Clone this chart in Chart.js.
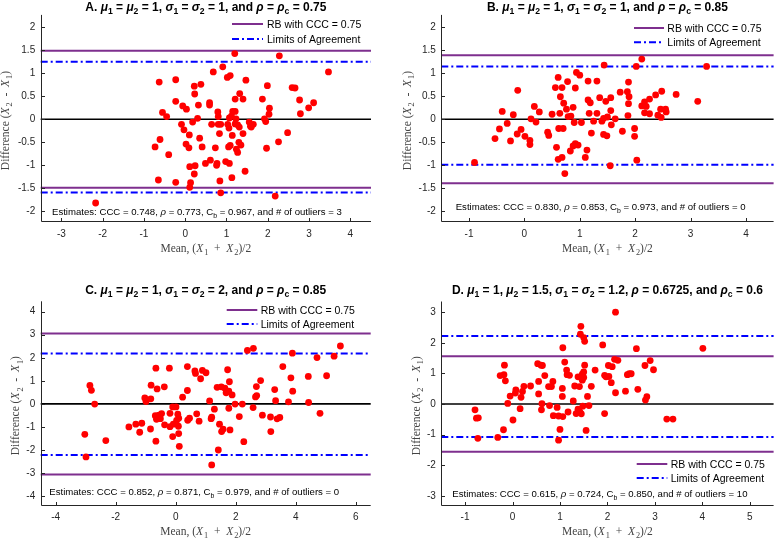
<!DOCTYPE html>
<html><head><meta charset="utf-8">
<script src="https://cdn.jsdelivr.net/npm/chart.js@4/dist/chart.umd.min.js"></script>
<style>
html,body{margin:0;padding:0;background:#fff;}
#wrap{position:relative;width:777px;height:539px;overflow:hidden;}
canvas{position:absolute;}
</style></head><body><div id="wrap">
<canvas id="cA" width="388" height="268" style="left:0;top:0"></canvas>
<canvas id="cB" width="389" height="268" style="left:388px;top:0"></canvas>
<canvas id="cC" width="388" height="271" style="left:0;top:268px"></canvas>
<canvas id="cD" width="389" height="271" style="left:388px;top:268px"></canvas>
</div>
<script>
// ---------- data: [mean, difference] pairs per panel ----------
const ptsA = [[-2.17,-1.82],[-0.63,0.81],[-0.61,-0.44],[-0.73,-0.60],[-0.65,-1.32],[-0.55,0.15],[-0.45,0.06],[-0.40,-0.77],[-0.23,0.86],[-0.23,0.39],
[-0.23,-1.37],[-0.06,0.29],[-0.09,-0.11],[-0.03,-0.23],[0.03,0.22],[0.02,-0.54],[0.09,-0.62],[0.10,-0.34],[0.11,-1.03],[0.13,-1.38],
[0.11,-1.48],[0.22,0.72],[0.23,0.55],[0.24,-1.01],[0.22,-1.19],[0.18,-0.06],[0.30,0.02],[0.32,0.31],[0.38,0.76],[0.35,-0.41],
[0.41,-0.60],[0.49,-0.96],[0.59,0.36],[0.59,0.31],[0.61,-0.89],[0.68,1.03],[0.64,-0.11],[0.73,-0.62],[0.77,-0.96],[0.76,-1.00],
[0.79,0.16],[0.80,0.06],[0.80,-0.11],[0.86,-0.11],[0.83,-0.31],[0.84,-1.34],[0.86,-1.60],[0.91,1.14],[0.98,-0.92],[1.02,0.91],
[1.09,0.95],[1.03,-0.11],[1.06,-0.19],[1.05,-0.60],[1.09,-0.57],[1.07,-0.96],[1.07,0.03],[1.12,0.07],[1.13,-1.27],[1.14,-0.35],
[1.15,0.17],[1.20,1.43],[1.21,0.44],[1.21,0.17],[1.23,0.01],[1.21,-0.10],[1.24,-0.65],[1.27,-0.72],[1.27,-0.12],[1.31,-0.17],
[1.32,0.56],[1.30,-0.50],[1.35,-0.56],[1.40,-0.31],[1.40,0.44],[1.47,0.85],[1.45,-1.13],[1.55,-0.06],[1.58,-0.15],[1.60,-0.17],
[1.65,-0.11],[1.87,0.44],[1.92,0.01],[1.95,-0.05],[1.99,0.73],[1.97,-0.63],[2.04,0.24],[2.03,0.11],[2.28,1.38],[2.26,-0.49],
[2.18,-1.67],[2.48,-0.29],[2.59,0.69],[2.66,0.68],[2.77,0.42],[2.79,0.12],[2.99,0.25],[3.11,0.36],[3.47,1.03]];

const ptsB = [[-0.90,-0.94],[-0.53,-0.42],[-0.45,-0.21],[-0.40,0.17],[-0.31,-0.09],[-0.25,-0.47],[-0.20,0.10],[-0.12,0.63],[-0.13,-0.32],[-0.06,-0.22],
[0.01,-0.37],[0.10,-0.46],[0.10,-0.55],[0.12,0.01],[0.18,0.28],[0.21,-0.06],[0.27,0.16],[0.42,-0.28],[0.44,-0.35],[0.50,0.11],
[0.56,0.69],[0.58,-0.61],[0.61,0.91],[0.61,-0.87],[0.64,0.13],[0.65,0.49],[0.62,-0.20],[0.68,0.69],[0.70,-0.20],[0.68,-0.83],
[0.71,0.35],[0.73,-1.18],[0.76,0.22],[0.78,0.82],[0.79,0.06],[0.83,-0.69],[0.84,0.07],[0.88,0.26],[0.90,-0.07],[0.88,-0.58],
[0.92,-0.53],[0.94,1.02],[0.92,0.68],[0.97,-0.56],[1.00,0.96],[1.03,-0.07],[1.10,-0.83],[1.13,-0.67],[1.15,0.83],[1.15,0.42],
[1.17,0.13],[1.19,0.36],[1.21,-0.30],[1.25,-0.04],[1.31,0.83],[1.31,0.13],[1.36,0.47],[1.40,-0.04],[1.43,0.02],[1.44,1.18],
[1.43,-0.33],[1.47,0.39],[1.49,-0.36],[1.50,0.05],[1.56,0.19],[1.56,0.47],[1.57,-0.12],[1.55,-1.01],[1.64,0.01],[1.73,0.59],
[1.77,-0.26],[1.86,0.60],[1.88,0.81],[1.89,0.49],[1.88,0.34],[1.87,0.08],[1.99,-0.20],[1.99,-0.37],[2.02,1.15],[2.03,-0.89],
[2.12,1.31],[2.12,0.29],[2.17,0.38],[2.17,0.14],[2.20,0.28],[2.26,0.44],[2.26,0.12],[2.37,0.53],[2.41,0.09],[2.46,0.22],
[2.48,0.61],[2.47,0.04],[2.55,0.22],[2.56,0.16],[2.74,0.54],[3.13,0.39],[3.29,1.15]];

const ptsC = [[-3.03,-1.32],[-2.99,-2.30],[-2.86,0.80],[-2.81,0.59],[-2.70,-0.01],[-2.33,-1.59],[-1.56,-1.00],[-1.33,-0.88],[-1.20,-1.23],[-1.13,-0.84],
[-1.03,0.26],[-0.99,0.10],[-0.83,0.22],[-0.82,0.81],[-0.84,-1.09],[-0.66,1.55],[-0.62,0.65],[-0.68,-0.51],[-0.64,-0.67],[-0.66,-1.62],
[-0.56,-0.49],[-0.51,-0.64],[-0.47,-0.42],[-0.38,0.74],[-0.37,-0.91],[-0.21,1.55],[-0.19,-0.41],[-0.19,-0.99],[-0.10,-0.13],[-0.10,-1.42],
[-0.08,-0.88],[0.01,-0.13],[0.03,-0.72],[0.07,-0.45],[0.09,-0.97],[0.10,-1.29],[0.12,-1.84],[0.10,-0.62],[0.23,0.29],[0.39,1.62],
[0.39,0.58],[0.40,-0.71],[0.46,-0.62],[0.64,1.43],[0.66,1.32],[0.70,-0.43],[0.78,-0.75],[0.83,1.09],[0.89,1.45],[1.01,1.35],
[1.13,0.13],[1.18,-0.64],[1.20,-0.58],[1.20,-2.65],[1.29,-0.23],[1.38,0.72],[1.42,-2.00],[1.46,-0.88],[1.52,0.74],[1.53,-1.20],
[1.58,-1.10],[1.64,0.68],[1.68,0.48],[1.73,1.48],[1.77,0.55],[1.77,-0.19],[1.79,0.96],[1.81,-1.13],[1.88,0.39],[1.98,-0.01],
[2.12,-0.55],[2.22,-0.01],[2.27,-1.64],[2.39,2.32],[2.59,2.41],[2.58,-0.16],[2.66,0.30],[2.69,0.75],[2.70,0.36],[2.83,1.01],
[2.89,-0.49],[3.16,-0.57],[3.17,-1.20],[3.30,0.62],[3.33,0.14],[3.38,-0.65],[3.47,-0.59],[3.57,1.62],[3.76,0.09],[3.84,1.13],
[3.89,2.20],[3.90,0.55],[4.42,1.19],[4.43,0.06],[4.71,2.01],[4.81,-0.41],[5.03,1.22],[5.28,2.07],[5.49,2.51]];

const ptsD = [[-0.79,-0.19],[-0.76,-0.46],[-0.72,-0.45],[-0.73,-1.12],[-0.31,-1.09],[-0.26,0.93],[-0.18,0.96],[-0.17,1.27],[-0.15,0.76],[-0.19,-0.84],
[-0.10,0.02],[-0.05,0.26],[0.01,-0.52],[0.06,0.36],[0.07,0.46],[0.16,-0.15],[0.18,0.22],[0.21,0.41],[0.24,0.58],[0.38,0.59],
[0.53,1.32],[0.55,0.74],[0.55,0.33],[0.60,1.27],[0.62,0.01],[0.61,-0.19],[0.63,1.26],[0.68,0.93],[0.76,0.57],[0.78,-0.05],
[0.82,0.57],[0.85,0.74],[0.86,-0.38],[0.94,-0.11],[0.97,-0.39],[0.97,-1.18],[1.00,-0.83],[1.06,1.84],[1.05,0.51],[1.05,0.25],
[1.06,-0.41],[1.10,1.37],[1.14,1.11],[1.15,0.96],[1.17,-0.26],[1.20,0.94],[1.28,0.10],[1.31,0.59],[1.34,-0.31],[1.38,0.89],
[1.38,-0.17],[1.41,0.57],[1.42,-0.26],[1.44,2.54],[1.43,2.28],[1.45,-0.32],[1.47,0.98],[1.47,0.78],[1.48,-0.07],[1.50,2.17],
[1.50,1.05],[1.50,0.87],[1.52,2.05],[1.52,1.27],[1.55,-0.86],[1.58,0.25],[1.61,-0.05],[1.66,0.58],[1.74,1.11],[1.90,1.93],
[1.94,0.94],[1.97,0.89],[1.94,-0.31],[2.02,1.26],[2.03,0.90],[2.08,0.70],[2.10,1.22],[2.15,1.46],[2.17,3.00],[2.17,0.37],
[2.22,1.43],[2.38,0.42],[2.42,0.96],[2.46,0.99],[2.50,0.99],[2.61,1.81],[2.64,0.48],[2.79,1.26],[2.80,0.13],[2.83,0.24],
[2.90,1.42],[2.97,1.12],[3.25,-0.49],[3.38,-0.49],[4.01,1.82]];

// reference lines: RB (CCC = 0.75) upper/lower, limits of agreement upper/lower
const rbA = [1.49, -1.49],  loaA = [1.25, -1.59];
const rbB = [1.39, -1.39],  loaB = [1.15, -0.99];
const rbC = [3.05, -3.06],  loaC = [2.19, -2.22];
const rbD = [1.565, -1.56], loaD = [2.22, -1.08];

// axis limits and ticks
const xlimA = [-3.5, 4.5], ylimA = [-2.24, 2.27];
const xlimB = [-1.5, 4.5], ylimB = [-2.24, 2.27];
const xlimC = [-4.5, 6.5], ylimC = [-4.43, 4.45];
const xlimD = [-1.5, 5.5], ylimD = [-3.33, 3.35];
const xticksA = [-3,-2,-1,0,1,2,3,4], yticksA = [-2,-1.5,-1,-0.5,0,0.5,1,1.5,2];
const xticksB = [-1,0,1,2,3,4],        yticksB = [-2,-1.5,-1,-0.5,0,0.5,1,1.5,2];
const xticksC = [-4,-2,0,2,4,6],       yticksC = [-4,-3,-2,-1,0,1,2,3,4];
const xticksD = [-1,0,1,2,3,4,5],      yticksD = [-3,-2,-1,0,1,2,3];

// text
const legendLabels = ['RB with CCC = 0.75', 'Limits of Agreement'];
const estimates = {
  A: ['0.748','0.773','0.967','3'],
  B: ['0.830','0.853','0.973','0'],
  C: ['0.852','0.871','0.979','0'],
  D: ['0.615','0.724','0.850','10']
};

// ---------- rendering helpers ----------
const SANS = '"Liberation Sans", Arial, Helvetica, sans-serif';
const SERIF = '"Liberation Serif", "Times New Roman", serif';
const AXC = '#262626';
const PURPLE = '#7E2F8E', BLUE = '#0000FF';

function segFont(base, st, sub) {
  const size = sub ? base.size * 0.72 : base.size;
  return (st && st.includes('i') ? 'italic ' : '') + (st && st.includes('b') ? 'bold ' : '') + size.toFixed(2) + 'px ' + base.family;
}
function drawRich(ctx, segs, base, x, y, align, rot) {
  ctx.save();
  let w = 0;
  segs.forEach(s => { ctx.font = segFont(base, s[1], s[2]); w += ctx.measureText(s[0]).width + (s[3] || 0); });
  ctx.translate(x, y);
  if (rot) ctx.rotate(rot);
  let cx = align === 'center' ? -w / 2 : (align === 'right' ? -w : 0);
  ctx.fillStyle = base.color; ctx.textBaseline = 'alphabetic'; ctx.textAlign = 'left';
  segs.forEach(s => {
    ctx.font = segFont(base, s[1], s[2]);
    ctx.fillText(s[0], cx, s[2] ? base.size * 0.3 : 0);
    cx += ctx.measureText(s[0]).width + (s[3] || 0);
  });
  ctx.restore();
}

const SP = '\u2002';
const xLabelSegs = [['Mean, '], ['('], ['X', 'i', 0, 1], ['1', '', 1], [SP + '+' + SP], ['X', 'i', 0, 1], ['2', '', 1], [')/2']];
const yLabelSegs = [['Difference '], ['('], ['X', 'i', 0, 1], ['2', '', 1], [SP + '-' + SP], ['X', 'i', 0, 1], ['1', '', 1], [')']];

const decor = {
  id: 'decor',
  afterDatasetsDraw(chart, args, o) {
    const ctx = chart.ctx, ca = chart.chartArea;
    const xs = chart.scales.x, ys = chart.scales.y;
    ctx.save();
    ctx.strokeStyle = AXC; ctx.lineWidth = 1;
    ctx.beginPath();
    const L = Math.round(ca.left) + 0.5, B = Math.round(ca.bottom) - 0.5;
    ctx.moveTo(L, ca.top); ctx.lineTo(L, B); ctx.lineTo(ca.right, B);
    xs.ticks.forEach(t => { const p = Math.round(xs.getPixelForValue(t.value)) + 0.5; ctx.moveTo(p, B); ctx.lineTo(p, B - 3.5); });
    ys.ticks.forEach(t => { const p = Math.round(ys.getPixelForValue(t.value)) + 0.5; ctx.moveTo(L, p); ctx.lineTo(L + 3.5, p); });
    ctx.stroke();
    // legend
    const lg = o.legend;
    [[PURPLE, []], [BLUE, [7, 3, 2, 3]]].forEach((st, i) => {
      const yy = lg.rows[i];
      ctx.beginPath(); ctx.strokeStyle = st[0]; ctx.lineWidth = 2; ctx.setLineDash(st[1]);
      ctx.moveTo(lg.x1, yy); ctx.lineTo(lg.x2, yy); ctx.stroke();
      ctx.setLineDash([]);
      drawRich(ctx, [[legendLabels[i]]], {family: SANS, size: 10.5, color: '#000'}, lg.tx, yy + 3.8, 'left');
    });
    ctx.restore();
    const midX = (ca.left + ca.right) / 2, midY = (ca.top + ca.bottom) / 2;
    // title
    drawRich(ctx, o.title, {family: SANS, size: 12, color: '#000'}, midX, o.titleY, 'center');
    // estimates
    const e = o.est;
    drawRich(ctx, [['Estimates: CCC = ' + e[0] + ', '], ['\u03C1', 'i'], [' = ' + e[1] + ', C'], ['b', '', 1], [' = ' + e[2] + ', and # of outliers = ' + e[3]]],
      {family: SANS, size: 9.6, color: '#000'}, o.estX, o.estY, 'left');
    // axis labels
    const lab = {family: SERIF, size: 11.5, color: '#444'};
    drawRich(ctx, xLabelSegs, lab, midX, o.xlabY, 'center');
    drawRich(ctx, yLabelSegs, lab, o.ylabX, midY + 2, 'center', -Math.PI / 2);
  }
};

function titleSegs(letter, mid) {
  return [[letter + '. ', 'b']].concat(mid);
}
const M = '\u03BC', S = '\u03C3', R = '\u03C1';
const titleA = titleSegs('A', [[M,'bi'],['1','b',1],[' = ','b'],[M,'bi'],['2','b',1],[' = 1, ','b'],[S,'bi'],['1','b',1],[' = ','b'],[S,'bi'],['2','b',1],[' = 1, and ','b'],[R,'bi'],[' = ','b'],[R,'bi'],['c','b',1],[' = 0.75','b']]);
const titleB = titleSegs('B', [[M,'bi'],['1','b',1],[' = ','b'],[M,'bi'],['2','b',1],[' = 1, ','b'],[S,'bi'],['1','b',1],[' = ','b'],[S,'bi'],['2','b',1],[' = 1, and ','b'],[R,'bi'],[' = ','b'],[R,'bi'],['c','b',1],[' = 0.85','b']]);
const titleC = titleSegs('C', [[M,'bi'],['1','b',1],[' = ','b'],[M,'bi'],['2','b',1],[' = 1, ','b'],[S,'bi'],['1','b',1],[' = ','b'],[S,'bi'],['2','b',1],[' = 2, and ','b'],[R,'bi'],[' = ','b'],[R,'bi'],['c','b',1],[' = 0.85','b']]);
const titleD = titleSegs('D', [[M,'bi'],['1','b',1],[' = 1, ','b'],[M,'bi'],['2','b',1],[' = 1.5, ','b'],[S,'bi'],['1','b',1],[' = ','b'],[S,'bi'],['2','b',1],[' = 1.2, ','b'],[R,'bi'],[' = 0.6725, and ','b'],[R,'bi'],['c','b',1],[' = 0.6','b']]);

function hline(v, xlim, color, dash, w) {
  return {type: 'line', data: [{x: xlim[0], y: v}, {x: xlim[1], y: v}], borderColor: color, borderWidth: w,
          borderDash: dash, pointRadius: 0, fill: false, tension: 0, clip: false};
}

function makePanel(id, cfg) {
  const ds = [
    {type: 'scatter', data: cfg.pts.map(p => ({x: p[0], y: p[1]})), pointRadius: 3.4, pointBackgroundColor: '#FF0000',
     pointBorderColor: '#FF0000', pointBorderWidth: 0, pointHoverRadius: 3.4},
    hline(0, cfg.xlim, '#000000', [], 1.6),
    hline(cfg.loa[0], cfg.xlim, BLUE, [7, 3, 2, 3], 2),
    hline(cfg.loa[1], cfg.xlim, BLUE, [7, 3, 2, 3], 2),
    hline(cfg.rb[0], cfg.xlim, PURPLE, [], 2),
    hline(cfg.rb[1], cfg.xlim, PURPLE, [], 2)
  ];
  const tickFont = {family: SANS, size: 10};
  new Chart(document.getElementById(id), {
    data: {datasets: ds},
    options: {
      responsive: false, animation: false, devicePixelRatio: 1,
      events: [],
      layout: {padding: {left: 0, top: cfg.pt, right: cfg.pr, bottom: 0}},
      plugins: {legend: {display: false}, tooltip: {enabled: false}, decor: cfg.decor},
      scales: {
        x: {type: 'linear', position: 'bottom', min: cfg.xlim[0], max: cfg.xlim[1],
            afterBuildTicks: s => { s.ticks = cfg.xticks.map(v => ({value: v})); },
            afterFit: s => { s.height = cfg.hx; },
            grid: {display: false, drawTicks: false}, border: {display: false},
            ticks: {font: tickFont, color: AXC, padding: 5.5, maxRotation: 0, autoSkip: false, callback: v => String(v)}},
        y: {type: 'linear', position: 'left', min: cfg.ylim[0], max: cfg.ylim[1],
            afterBuildTicks: s => { s.ticks = cfg.yticks.map(v => ({value: v})); },
            afterFit: s => { s.width = cfg.wy; },
            grid: {display: false, drawTicks: false}, border: {display: false},
            ticks: {font: tickFont, color: AXC, padding: 5.5, autoSkip: false, callback: v => String(v)}}
      }
    },
    plugins: [decor]
  });
}

makePanel('cA', {pts: ptsA, rb: rbA, loa: loaA, xlim: xlimA, ylim: ylimA, xticks: xticksA, yticks: yticksA,
  wy: 40.7, pr: 17, pt: 14.9, hx: 45.7,
  decor: {title: titleA, titleY: 10.5, est: estimates.A, estX: 52, estY: 215, xlabY: 251.7, ylabX: 8.5,
          legend: {x1: 232, x2: 263, tx: 267, rows: [24, 39]}}});
makePanel('cB', {pts: ptsB, rb: rbB, loa: loaB, xlim: xlimB, ylim: ylimB, xticks: xticksB, yticks: yticksB,
  wy: 53.3, pr: 0, pt: 14.9, hx: 45.7,
  decor: {title: titleB, titleY: 10.5, est: estimates.B, estX: 67.7, estY: 210, xlabY: 251.7, ylabX: 22.7,
          legend: {x1: 246, x2: 276, tx: 279.3, rows: [28, 42.3]}}});
makePanel('cC', {pts: ptsC, rb: rbC, loa: loaC, xlim: xlimC, ylim: ylimC, xticks: xticksC, yticks: yticksC,
  wy: 40.7, pr: 17.3, pt: 33.3, hx: 33,
  decor: {title: titleC, titleY: 25.7, est: estimates.C, estX: 49.3, estY: 227.3, xlabY: 266.7, ylabX: 19.3,
          legend: {x1: 226.7, x2: 257.3, tx: 260.7, rows: [42, 56]}}});
makePanel('cD', {pts: ptsD, rb: rbD, loa: loaD, xlim: xlimD, ylim: ylimD, xticks: xticksD, yticks: yticksD,
  wy: 53.3, pr: 2, pt: 33.5, hx: 33,
  decor: {title: titleD, titleY: 25.7, est: estimates.D, estX: 64.3, estY: 228.7, xlabY: 266.7, ylabX: 31.7,
          legend: {x1: 248.7, x2: 279.3, tx: 282.7, rows: [196, 210]}}});
</script>
</body></html>
